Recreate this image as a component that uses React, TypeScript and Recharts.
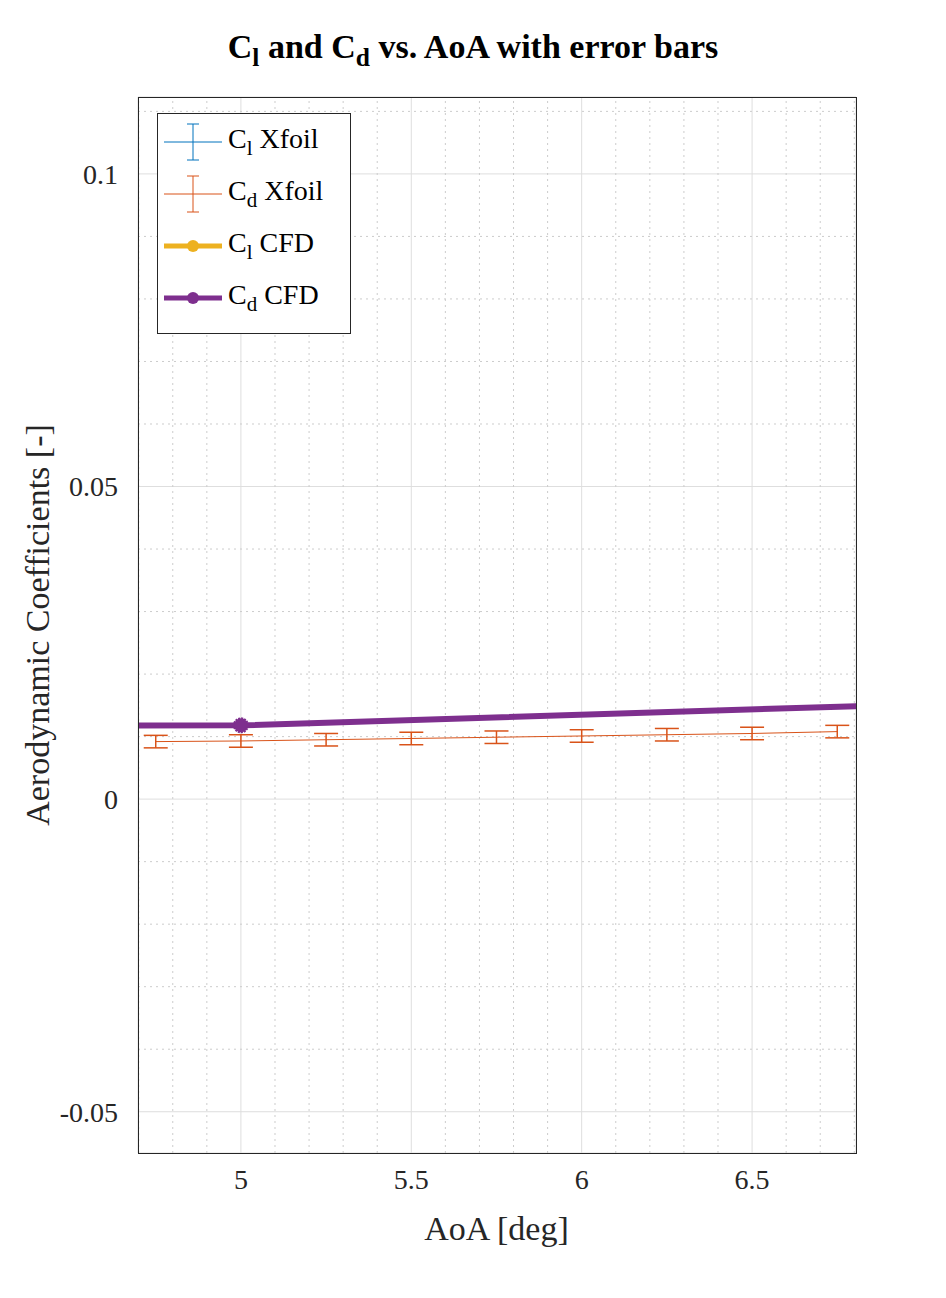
import React from 'react';
import { ComposedChart, Line, XAxis, YAxis, CartesianGrid, ReferenceLine, ErrorBar } from 'recharts';

const aoaXfoil = [4.75, 5, 5.25, 5.5, 5.75, 6, 6.25, 6.5, 6.75];
const cdXfoil = [0.0092, 0.0093, 0.0095, 0.0097, 0.0099, 0.0101, 0.0103, 0.0105, 0.0108];
const cdErr = [0.001, 0.001, 0.001, 0.001, 0.001, 0.001, 0.001, 0.001, 0.001];
const clXfoil = [0.62, 0.64, 0.67, 0.69, 0.72, 0.74, 0.77, 0.79, 0.82];
const aoaCfd = [4, 5, 7];
const cdCfd = [0.0117, 0.0118, 0.0152];
const clCfd = [0.55, 0.6, 0.78];

const xMajor = [5, 5.5, 6, 6.5];
const yMajor = [-0.05, 0, 0.05, 0.1];
const xMinor = [4.7, 4.8, 4.9, 5.1, 5.2, 5.3, 5.4, 5.6, 5.7, 5.8, 5.9, 6.1, 6.2, 6.3, 6.4, 6.6, 6.7, 6.8];
const yMinor = [-0.04, -0.03, -0.02, -0.01, 0.01, 0.02, 0.03, 0.04, 0.06, 0.07, 0.08, 0.09, 0.11];

const xfoilData = aoaXfoil.map((a, i) => ({ aoa: a, cd: cdXfoil[i], err: cdErr[i], cl: clXfoil[i] }));
const cfdData = aoaCfd.map((a, i) => ({ aoa: a, cd: cdCfd[i], cl: clCfd[i] }));

const font = '"Liberation Serif", "Times New Roman", serif';
const BLUE = '#0072BD', ORANGE = '#D95319', YELLOW = '#EDB120', PURPLE = '#7E2F8E';

const Star = (props: any) => {
  const { cx, cy, payload, fill } = props;
  if (payload.aoa !== 5) return null;
  return <circle cx={cx} cy={cy} r={7} fill={fill} stroke={fill} strokeDasharray="2 1" strokeWidth={2} />;
};

const Sub = ({ s }: { s: string }) => <sub style={{ fontSize: '0.75em' }}>{s}</sub>;

function LegendRow({ color, thick, err, s, name }: any) {
  return (
    <div style={{ display: 'flex', alignItems: 'center', height: 52 }}>
      <svg width={70} height={52}>
        <line x1={6} x2={64} y1={26} y2={26} stroke={color} strokeWidth={thick ? 5 : 1} />
        {err && <><line x1={35} x2={35} y1={8} y2={44} stroke={color} /><line x1={29} x2={41} y1={8} y2={8} stroke={color} /><line x1={29} x2={41} y1={44} y2={44} stroke={color} /></>}
        {thick && <circle cx={35} cy={26} r={6} fill={color} />}
      </svg>
      <span style={{ fontSize: 28 }}>C<Sub s={s} /> {name}</span>
    </div>
  );
}

export default function App() {
  return (
    <div style={{ position: 'absolute', left: 0, top: 0, width: 946, height: 1298, background: '#fff', fontFamily: font }}>
      <ComposedChart width={946} height={1298} margin={{ top: 97, left: 0, right: 90, bottom: 0 }}>
        <XAxis type="number" dataKey="aoa" domain={[4.698, 6.805]} ticks={xMajor} allowDataOverflow height={145}
          axisLine={false} tickLine={false} tickMargin={10} tick={{ fontSize: 28, fill: '#262626', fontFamily: font }} />
        <YAxis type="number" domain={[-0.0566, 0.1123]} ticks={yMajor} allowDataOverflow width={138}
          axisLine={false} tickLine={false} tickMargin={14} tick={{ fontSize: 28, fill: '#262626', fontFamily: font }} />
        {xMinor.map((x) => <ReferenceLine key={'x' + x} x={x} stroke="#ccc" strokeDasharray="2 4" />)}
        {yMinor.map((y) => <ReferenceLine key={'y' + y} y={y} stroke="#ccc" strokeDasharray="2 4" />)}
        <CartesianGrid stroke="#dedede" />
        <Line data={xfoilData} dataKey="cl" stroke={BLUE} strokeWidth={1} dot={false} isAnimationActive={false} />
        <Line data={xfoilData} dataKey="cd" stroke={ORANGE} strokeWidth={1} dot={false} isAnimationActive={false}>
          <ErrorBar dataKey="err" width={12} stroke={ORANGE} strokeWidth={1.5} />
        </Line>
        <Line data={cfdData} dataKey="cl" stroke={YELLOW} strokeWidth={5} dot={false} isAnimationActive={false} />
        <Line data={cfdData} dataKey="cd" stroke={PURPLE} strokeWidth={6} dot={<Star fill={PURPLE} />} isAnimationActive={false} />
      </ComposedChart>
      <div style={{ position: 'absolute', left: 138, top: 97, width: 717, height: 1055, border: '1px solid #262626', pointerEvents: 'none' }} />
      <div style={{ position: 'absolute', left: 0, width: 946, top: 28, textAlign: 'center', fontSize: 34, fontWeight: 'bold' }}>
        C<Sub s="l" /> and C<Sub s="d" /> vs. AoA with error bars
      </div>
      <div style={{ position: 'absolute', left: 138, width: 717, top: 1210, textAlign: 'center', fontSize: 34, color: '#262626' }}>AoA [deg]</div>
      <div style={{ position: 'absolute', left: 38, top: 625, transform: 'translate(-50%, -50%) rotate(-90deg)', whiteSpace: 'nowrap', fontSize: 34, color: '#262626' }}>
        Aerodynamic Coefficients [-]
      </div>
      <div style={{ position: 'absolute', left: 157, top: 113, width: 192, height: 217, border: '1px solid #262626', background: '#fff', paddingTop: 2 }}>
        <LegendRow color={BLUE} err s="l" name="Xfoil" />
        <LegendRow color={ORANGE} err s="d" name="Xfoil" />
        <LegendRow color={YELLOW} thick s="l" name="CFD" />
        <LegendRow color={PURPLE} thick s="d" name="CFD" />
      </div>
    </div>
  );
}
